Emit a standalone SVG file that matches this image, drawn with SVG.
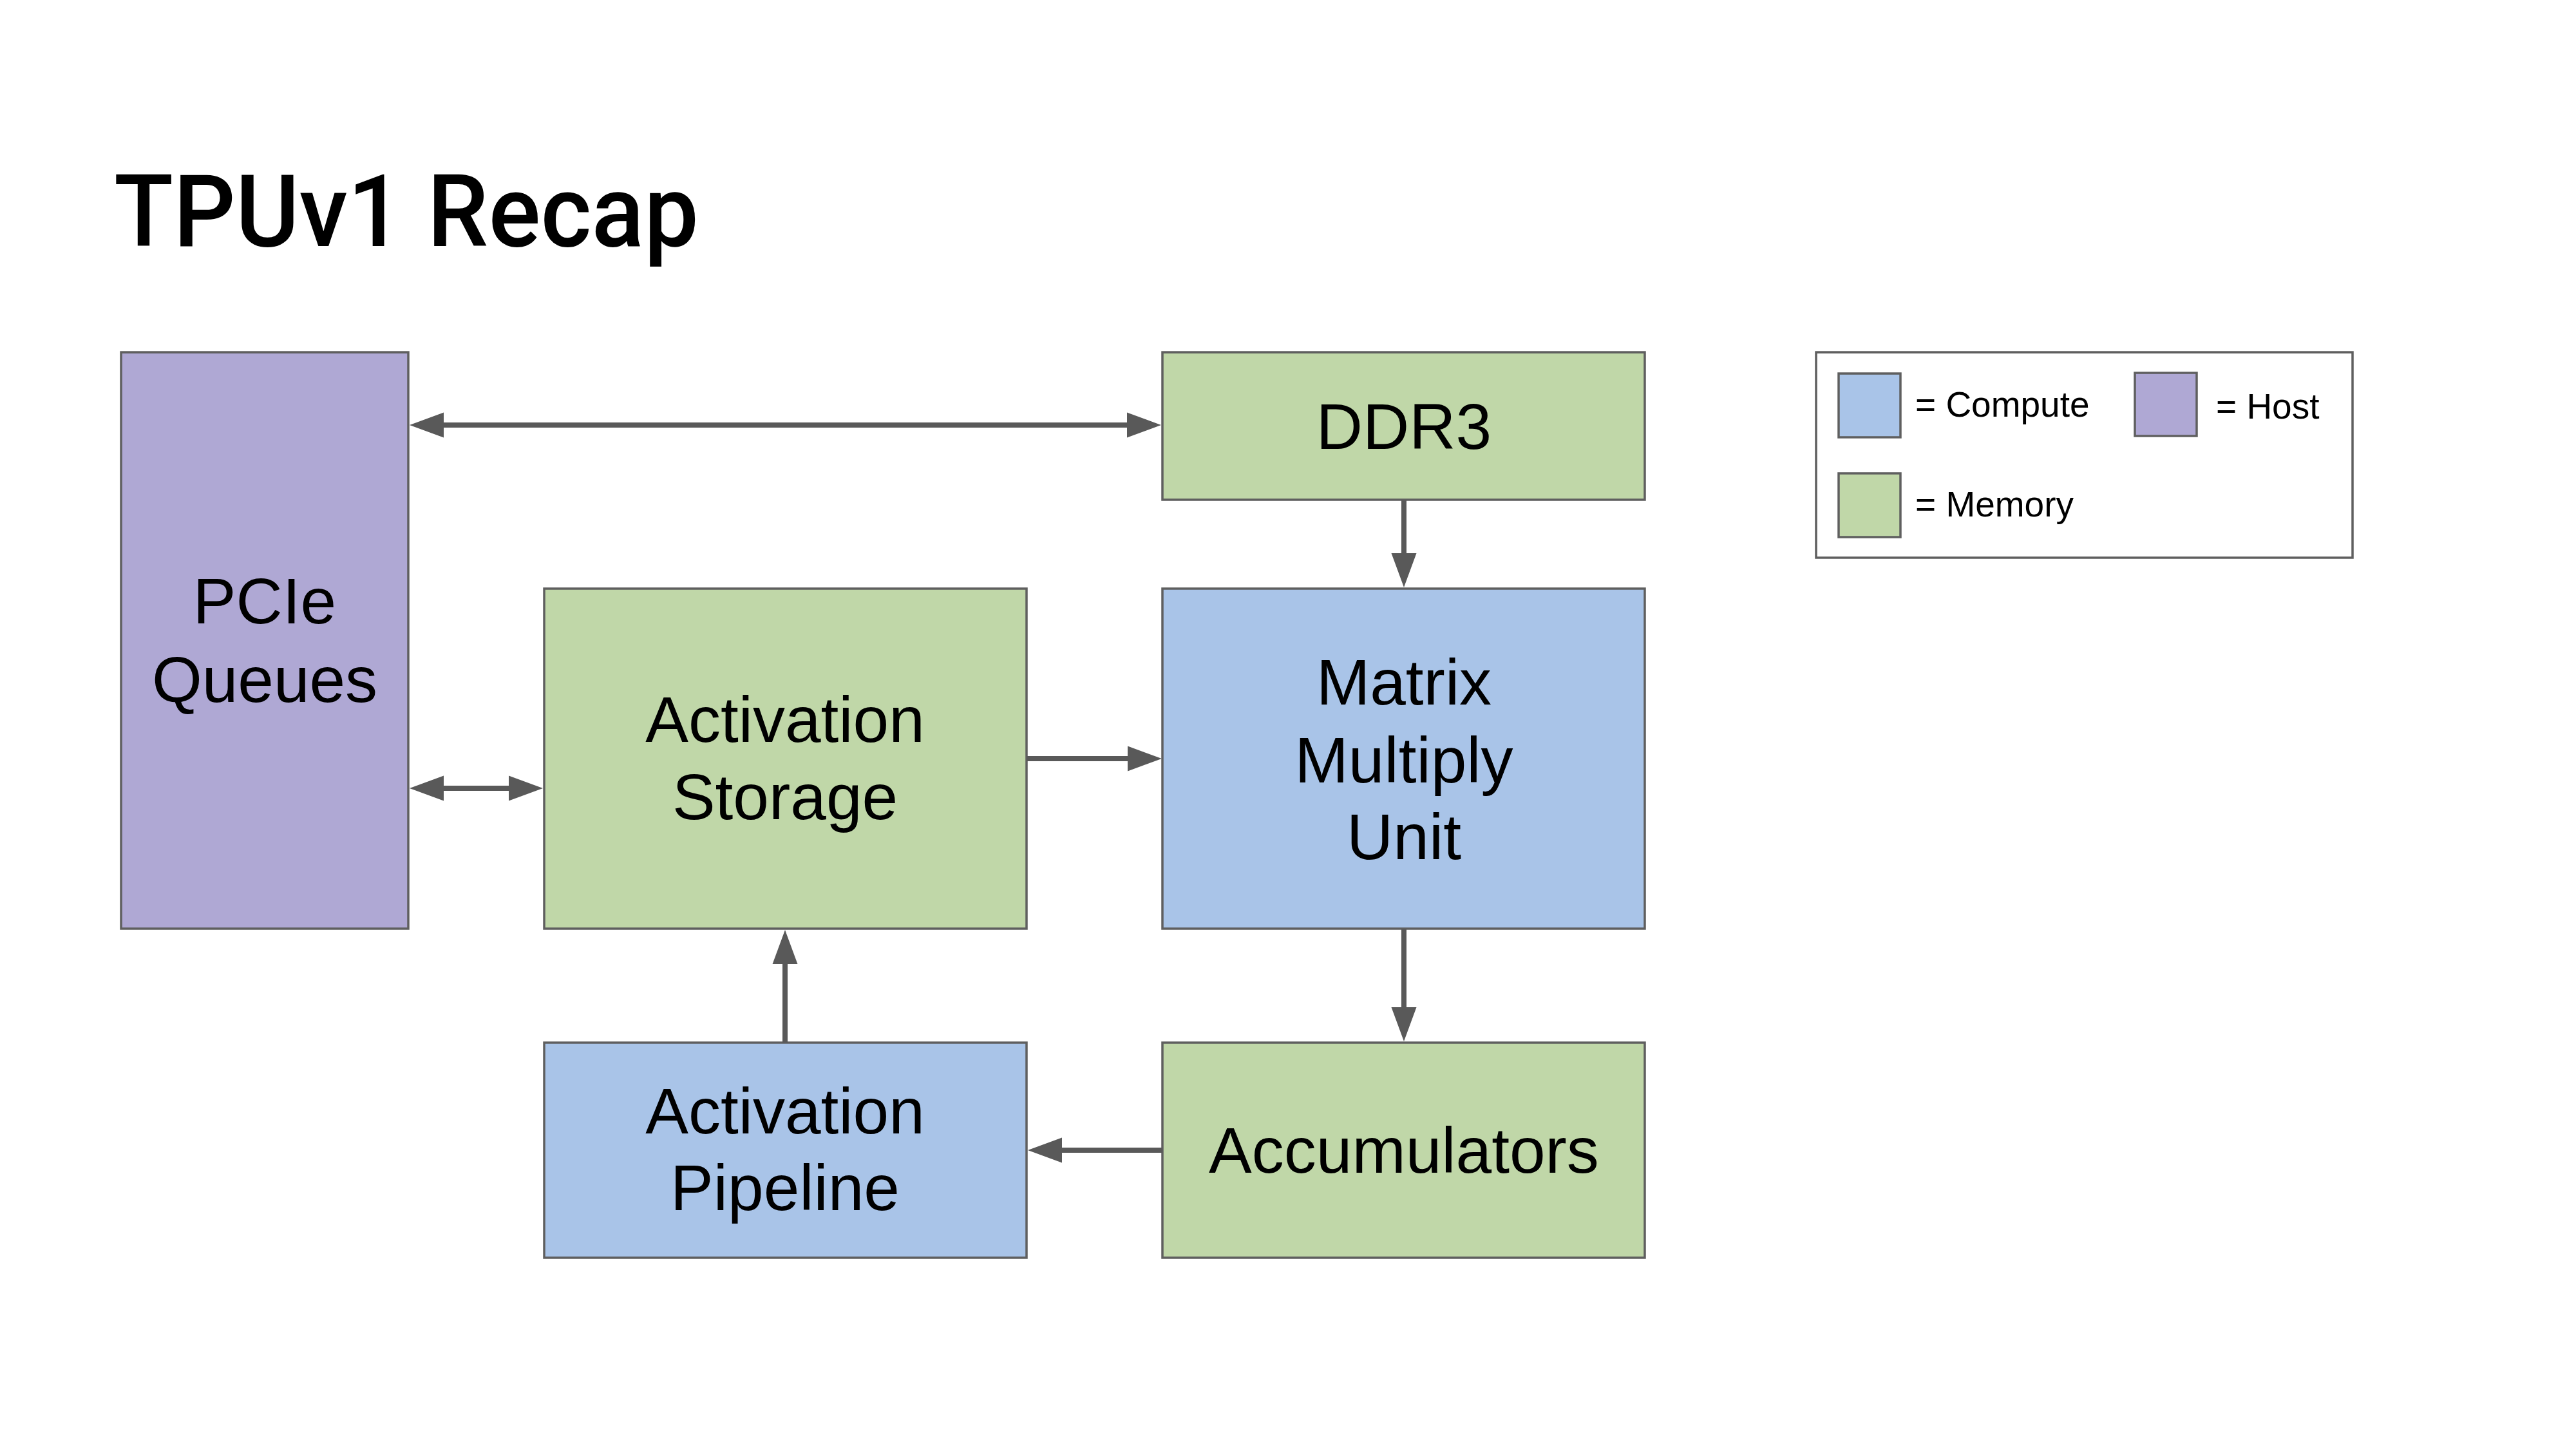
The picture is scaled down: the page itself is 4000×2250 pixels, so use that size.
<svg xmlns="http://www.w3.org/2000/svg" width="4000" height="2250" viewBox="0 0 4000 2250">
<defs>
<style>
.box{stroke:#5f5f5f;stroke-width:3.5}
.compute{fill:#a9c4e8}
.memory{fill:#c0d7a8}
.host{fill:#afa8d4}
.lbl{font-family:"Liberation Sans",Arial,sans-serif;font-size:100px;fill:#000;text-anchor:middle}
.leg{font-family:"Liberation Sans",Arial,sans-serif;font-size:55px;fill:#000}
.title{font-family:Roboto,"Open Sans",sans-serif;font-weight:500;font-size:156px;fill:#000}
.conn{stroke:#595959;stroke-width:8;fill:none}
</style>
<marker id="ah" markerUnits="userSpaceOnUse" markerWidth="54" markerHeight="40" viewBox="0 0 54 40" refX="0" refY="20" orient="auto-start-reverse">
<path d="M0,0.5 L53,20 L0,39.5 z" fill="#595959"/>
</marker>
</defs>
<rect width="4000" height="2250" fill="#fff"/>
<text class="title" x="177" y="382" textLength="908" lengthAdjust="spacingAndGlyphs">TPUv1 Recap</text>

<g id="pcie">
<rect class="box host" x="188" y="547" width="446" height="895"/>
<text class="lbl" x="411" y="968">PCIe</text>
<text class="lbl" x="411" y="1090">Queues</text>
</g>
<g id="ddr3">
<rect class="box memory" x="1805" y="547" width="749" height="229"/>
<text class="lbl" x="2180" y="697">DDR3</text>
</g>
<g id="activation-storage">
<rect class="box memory" x="845" y="914" width="749" height="528"/>
<text class="lbl" x="1219" y="1152">Activation</text>
<text class="lbl" x="1219" y="1272">Storage</text>
</g>
<g id="matrix-multiply-unit">
<rect class="box compute" x="1805" y="914" width="749" height="528"/>
<text class="lbl" x="2180" y="1094">Matrix</text>
<text class="lbl" x="2180" y="1215">Multiply</text>
<text class="lbl" x="2180" y="1334">Unit</text>
</g>
<g id="activation-pipeline">
<rect class="box compute" x="845" y="1619" width="749" height="334"/>
<text class="lbl" x="1219" y="1760">Activation</text>
<text class="lbl" x="1219" y="1879">Pipeline</text>
</g>
<g id="accumulators">
<rect class="box memory" x="1805" y="1619" width="749" height="334"/>
<text class="lbl" x="2180" y="1821">Accumulators</text>
</g>
<g id="legend">
<rect x="2820" y="547" width="833" height="319" fill="#fff" stroke="#5f5f5f" stroke-width="3.5"/>
<rect class="box compute" x="2855" y="580" width="96" height="99"/>
<text class="leg" x="2974" y="647">= Compute</text>
<rect class="box host" x="3315" y="579" width="96" height="98"/>
<text class="leg" x="3441" y="650">= Host</text>
<rect class="box memory" x="2855" y="735" width="96" height="99"/>
<text class="leg" x="2974" y="802">= Memory</text>
</g>

<g id="connectors">
<line class="conn" x1="689" y1="660" x2="1750" y2="660" marker-start="url(#ah)" marker-end="url(#ah)"/>
<line class="conn" x1="689" y1="1224" x2="790" y2="1224" marker-start="url(#ah)" marker-end="url(#ah)"/>
<line class="conn" x1="1595" y1="1178" x2="1751" y2="1178" marker-end="url(#ah)"/>
<line class="conn" x1="2180" y1="777" x2="2180" y2="859" marker-end="url(#ah)"/>
<line class="conn" x1="2180" y1="1443" x2="2180" y2="1564" marker-end="url(#ah)"/>
<line class="conn" x1="1805" y1="1786" x2="1649" y2="1786" marker-end="url(#ah)"/>
<line class="conn" x1="1219" y1="1619" x2="1219" y2="1497" marker-end="url(#ah)"/>
</g>
</svg>
